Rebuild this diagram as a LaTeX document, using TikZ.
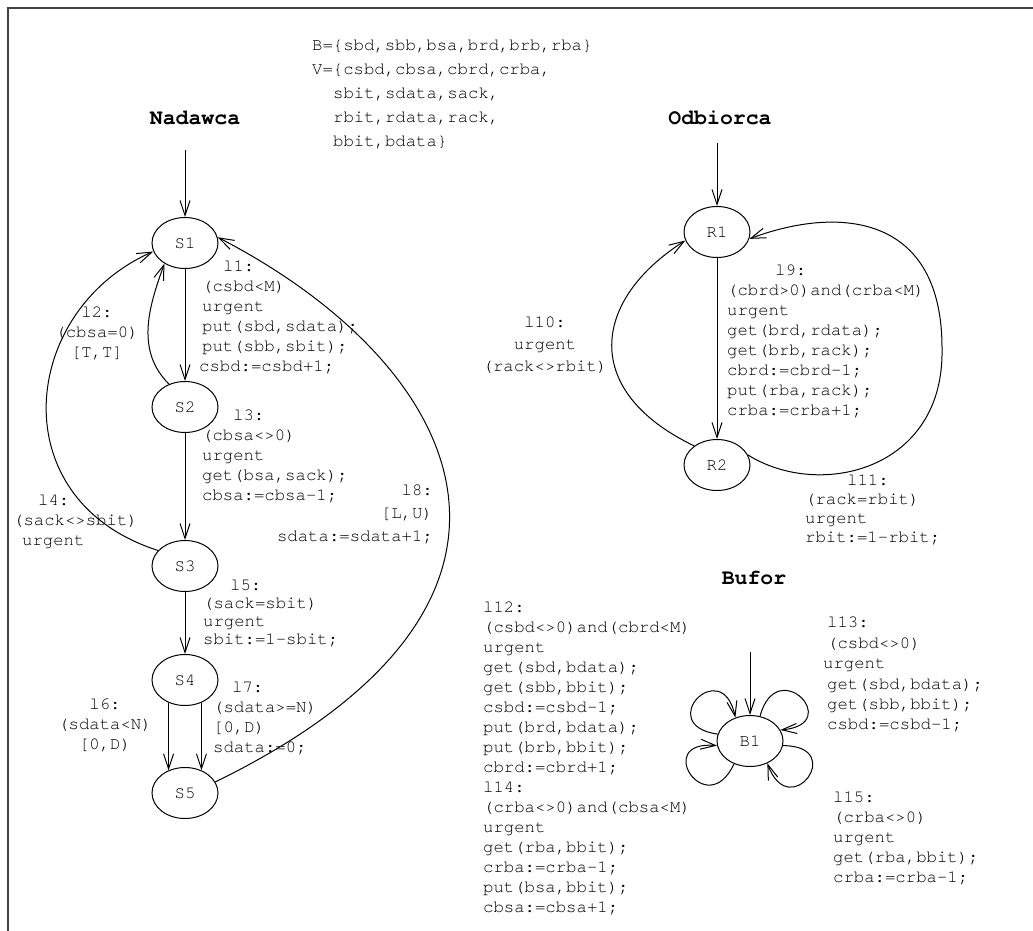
\documentclass[tikz,border=0pt]{standalone}
\usepackage{fontspec}
\newfontfamily\cour{TeX Gyre Cursor}
\usetikzlibrary{shapes.geometric,arrows.meta,calc}
\newcommand\mylab{\cour\fontsize{17.3}{20}\selectfont}
\newcommand\mytitle{\cour\bfseries\fontsize{21.5}{24}\selectfont}
\begin{document}
\begin{tikzpicture}[x=1pt,y=1pt,
  st/.style={draw, ellipse, line width=1pt, minimum width=66pt, minimum height=51pt, inner sep=0pt, font=\mylab},
  lbl/.style={font=\mylab, align=left, anchor=north west, inner sep=0pt},
  ttl/.style={font=\mytitle, inner sep=0pt},
  arr/.style={-{Straight Barb[length=15pt,width=10pt]}, line width=1pt},
  frame/.style={line width=1.3pt, draw=black!75}
]
\useasboundingbox (0,0) rectangle (1033,-931);
\draw[frame] (8,-931) -- (8,-8) -- (1033,-8);

% titles and declarations
\node[ttl] (nad) at (195,-118) {Nadawca};
\node[ttl] (odb) at (720,-118) {Odbiorca};
\node[ttl] (buf) at (754,-578) {Bufor};
\node[lbl, font=\cour\fontsize{17.3}{24}\selectfont] (bv) at (312,-40)
  {B=\{sbd,sbb,bsa,brd,brb,rba\}\\V=\{csbd,cbsa,cbrd,crba,\\\hspace*{21pt}sbit,sdata,sack,\\\hspace*{21pt}rbit,rdata,rack,\\\hspace*{21pt}bbit,bdata\}};

% Nadawca states
\node[st] (S1) at (185,-243) {S1};
\node[st] (S2) at (185,-407) {S2};
\node[st] (S3) at (185,-566) {S3};
\node[st] (S4) at (185,-680) {S4};
\node[st] (S5) at (185,-793) {S5};
\coordinate (iS) at (185,-150);

\draw[arr] (iS) -- (S1);
\draw[arr] (S1) -- (S2);
\draw[arr] (S2) -- (S3);
\draw[arr] (S3) -- (S4);
\draw[arr] (S4.234) -- (S5.126);
\draw[arr] (S4.306) -- (S5.54);
\draw[arr] (S2.125) to[out=135,in=-110] (S1.225);
\draw[arr] (S3.150) .. controls (0,-500) and (20,-310) .. (S1.195);
\draw[arr] (S5.20) .. controls (587,-600) and (461,-363) .. (S1.10);

\node[lbl] (t1) at (202,-261) {\hspace*{21pt}l1:\\(csbd<M)\\urgent\\put(sbd,sdata);\\put(sbb,sbit);\\\hspace*{-3pt}csbd:=csbd+1;};
\node[lbl, anchor=north, align=center] (t2) at (97,-307) {l2:\\(cbsa=0)\\{[}T,T{]}};
\node[lbl] (t3) at (202,-410) {\hspace*{31pt}l3:\\(cbsa<>0)\\urgent\\get(bsa,sack);\\cbsa:=cbsa-1;};
\node[lbl] (t4) at (13,-495) {\hspace*{25pt}l4:\\(sack<>sbit)\\\hspace*{9pt}urgent};
\node[lbl, anchor=north east, align=right, font=\cour\fontsize{17.3}{23}\selectfont] (t8) at (433,-485) {l8:\\{[}L,U)\\sdata:=sdata+1;};
\node[lbl, font=\cour\fontsize{17.3}{18}\selectfont] (t5) at (203,-580) {\hspace*{27pt}l5:\\(sack=sbit)\\urgent\\sbit:=1-sbit;};
\node[lbl, anchor=north, align=center] (t6) at (105,-699) {l6:\\(sdata<N)\\{[}0,D)};
\node[lbl] (t7) at (213,-682) {\hspace*{19pt}l7:\\(sdata>=N)\\{[}0,D)\\sdata:=0;};

% Odbiorca
\node[st] (R1) at (717,-232) {R1};
\node[st] (R2) at (717,-465) {R2};
\coordinate (iR) at (717,-143);
\coordinate (r11) at (942,-348);
\draw[arr] (iR) -- (R1);
\draw[arr] (R1) -- (R2);
\draw[arr] (R2.140) .. controls (580,-391) and (592,-300) .. (R1.195);
\draw[arr] (R2.18) .. controls (820,-500) and (945,-470) .. (r11) .. controls (942,-215) and (840,-205) .. (R1.-12);

\node[lbl] (t9) at (727,-265) {\hspace*{48pt}l9:\\(cbrd>0)and(crba<M)\\urgent\\get(brd,rdata);\\get(brb,rack);\\cbrd:=cbrd-1;\\put(rba,rack);\\crba:=crba+1;};
\node[lbl, anchor=north, align=center, font=\cour\fontsize{17.3}{22}\selectfont] (t10) at (545,-317) {l10:\\urgent\\(rack<>rbit)};
\node[lbl, font=\cour\fontsize{17.3}{19}\selectfont] (t11) at (805,-475) {\hspace*{42pt}l11:\\(rack=rbit)\\urgent\\rbit:=1-rbit;};

% Bufor
\node[st] (B1) at (750,-741) {B1};
\coordinate (iB) at (750,-652);
\draw[arr] (iB) -- (B1);
\draw[arr] (B1.168) .. controls +(172:65) and +(102:65) .. (B1.122);
\draw[arr] (B1.68) .. controls +(75:65) and +(5:65) .. (B1.20);
\draw[arr] (B1.235) .. controls +(245:65) and +(175:65) .. (B1.188);
\draw[arr] (B1.-8) .. controls +(0:65) and +(-70:65) .. (B1.-52);

\node[lbl] (t12) at (483,-602) {l12:\\(csbd<>0)and(cbrd<M)\\urgent\\get(sbd,bdata);\\get(sbb,bbit);\\csbd:=csbd-1;\\put(brd,bdata);\\put(brb,bbit);\\cbrd:=cbrd+1;};
\node[lbl] (t14) at (483,-782) {l14:\\(crba<>0)and(cbsa<M)\\urgent\\get(rba,bbit);\\crba:=crba-1;\\put(bsa,bbit);\\cbsa:=cbsa+1;};
\node[lbl, font=\cour\fontsize{17.3}{20.4}\selectfont] (t13) at (827,-617) {l13:\\(csbd<>0)\\\hspace*{-4pt}urgent\\get(sbd,bdata);\\get(sbb,bbit);\\csbd:=csbd-1;};
\node[lbl] (t15) at (833,-792) {l15:\\(crba<>0)\\urgent\\get(rba,bbit);\\crba:=crba-1;};
\end{tikzpicture}
\end{document}
